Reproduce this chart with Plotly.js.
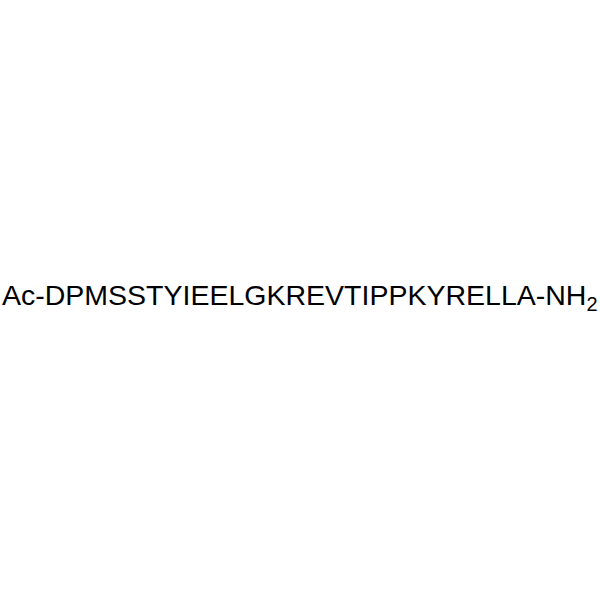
<!DOCTYPE html>
<html>
<head>
<meta charset="utf-8">
<script src="https://cdn.plot.ly/plotly-3.0.1.min.js"></script>
<style>html,body{margin:0;padding:0;background:#fff}#chart{width:600px;height:600px}</style>
</head>
<body>
<div id="chart"></div>
<script>
// peptide label pieces
const nTerm = 'Ac';
const residues = ['D','P','M','S','S','T','Y','I','E','E','L','G','K','R','E','V','T','I','P','P','K','Y','R','E','L','L','A'];
const cTerm = 'NH';
const cTermSub = '2';

const label = nTerm + '-' + residues.join('') + '-' + cTerm + '<sub>' + cTermSub + '</sub>';

const layout = {
  width: 600, height: 600,
  margin: { l: 0, r: 0, t: 0, b: 0 },
  paper_bgcolor: '#ffffff', plot_bgcolor: '#ffffff',
  xaxis: { range: [0, 600], visible: false, fixedrange: true },
  yaxis: { range: [600, 0], visible: false, fixedrange: true },
  showlegend: false,
  annotations: [{
    x: 300, y: 297, xref: 'x', yref: 'y',
    text: label, showarrow: false,
    xanchor: 'center', yanchor: 'middle',
    font: { family: 'Liberation Sans, Arial, sans-serif', size: 28.5, color: '#000000' }
  }]
};

Plotly.newPlot('chart', [], layout, { displayModeBar: false, staticPlot: true });
</script>
</body>
</html>
